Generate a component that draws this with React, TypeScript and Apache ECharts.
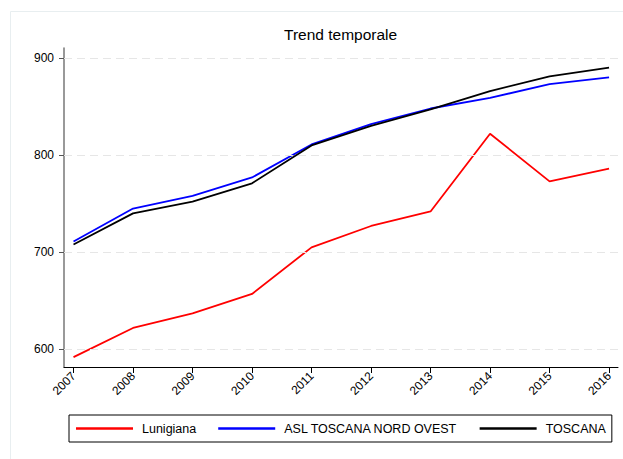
import React, { useEffect, useRef } from "react";
import * as echarts from "echarts";

const years = [2007, 2008, 2009, 2010, 2011, 2012, 2013, 2014, 2015, 2016];
const lunigiana = [592, 622, 637, 657, 705, 727, 742, 822, 773, 786];
const aslNordOvest = [711, 745, 758, 777, 811, 832, 848, 859, 873, 880];
const toscana = [708, 740, 752, 771, 810, 830, 847, 866, 881, 890];
const yTicks = [600, 700, 800, 900];
const seriesNames = ["Lunigiana", "ASL TOSCANA NORD OVEST", "TOSCANA"];
const seriesColors = ["#ff0000", "#0000ff", "#000000"];

const FONT = "'Liberation Sans', Arial, Helvetica, sans-serif";

export default function App() {
  const ref = useRef<HTMLDivElement>(null);
  useEffect(() => {
    if (!ref.current) return;
    const chart = echarts.init(ref.current, null, { renderer: "svg" });
    const values = [lunigiana, aslNordOvest, toscana];
    chart.setOption({
      animation: false,
      backgroundColor: "#ffffff",
      textStyle: { fontFamily: FONT },
      title: {
        text: "Trend temporale",
        left: 284,
        top: 26,
        padding: 0,
        textStyle: { fontFamily: FONT, fontSize: 15.5, fontWeight: "normal", color: "#000" },
      },
      graphic: [
        {
          type: "rect",
          shape: { x: 10.5, y: 11.5, width: 700, height: 600 },
          style: { fill: "none", stroke: "#e8eef0", lineWidth: 1 },
          silent: true,
          z: -1,
        },
      ],
      grid: { left: 64, top: 48, right: 5, bottom: 92, containLabel: false },
      legend: {
        data: seriesNames.map((n) => ({ name: n, icon: "rect" })),
        left: 69,
        top: 415,
        orient: "horizontal",
        itemWidth: 57,
        itemHeight: 2.5,
        itemGap: 22,
        padding: [7, 6, 7, 7],
        borderColor: "#000",
        borderWidth: 1,
        textStyle: { fontFamily: FONT, fontSize: 12.5, color: "#000", padding: [0, 0, 0, 4] },
        selectedMode: false,
      },
      xAxis: {
        type: "value",
        min: 2006.84,
        max: 2016.15,
        axisLine: { show: true, onZero: false, lineStyle: { color: "#000", width: 1 } },
        axisTick: { show: true, length: 6, customValues: years, lineStyle: { color: "#000" } },
        axisLabel: {
          customValues: years,
          rotate: 45,
          margin: 7,
          fontSize: 12,
          color: "#000",
          fontFamily: FONT,
          formatter: (v: number) => String(Math.round(v)),
        },
        splitLine: { show: false },
      },
      yAxis: {
        type: "value",
        min: 581.8,
        max: 910.3,
        axisLine: { show: true, onZero: false, lineStyle: { color: "#777", width: 1.5 } },
        axisTick: { show: true, length: 5, customValues: yTicks, lineStyle: { color: "#555" } },
        axisLabel: {
          customValues: yTicks,
          margin: 10,
          fontSize: 12,
          color: "#000",
          fontFamily: FONT,
        },
        splitLine: { show: false },
      },
      series: [
        {
          type: "line",
          name: "_grid",
          data: [],
          silent: true,
          markLine: {
            silent: true,
            symbol: "none",
            label: { show: false },
            lineStyle: { color: "#e6e6e6", type: [8, 5], width: 1 },
            data: yTicks.map((v) => ({ yAxis: v })),
          },
        },
        ...seriesNames.map((name, i) => ({
          type: "line",
          name,
          data: years.map((y, j) => [y, values[i][j]]),
          showSymbol: false,
          symbol: "none",
          lineStyle: { color: seriesColors[i], width: 1.8 },
          itemStyle: { color: seriesColors[i] },
        })),
      ],
    });
    return () => chart.dispose();
  }, []);
  return (
    <div
      ref={ref}
      style={{ position: "fixed", left: 0, top: 0, width: 623, height: 459, background: "#fff" }}
    />
  );
}
